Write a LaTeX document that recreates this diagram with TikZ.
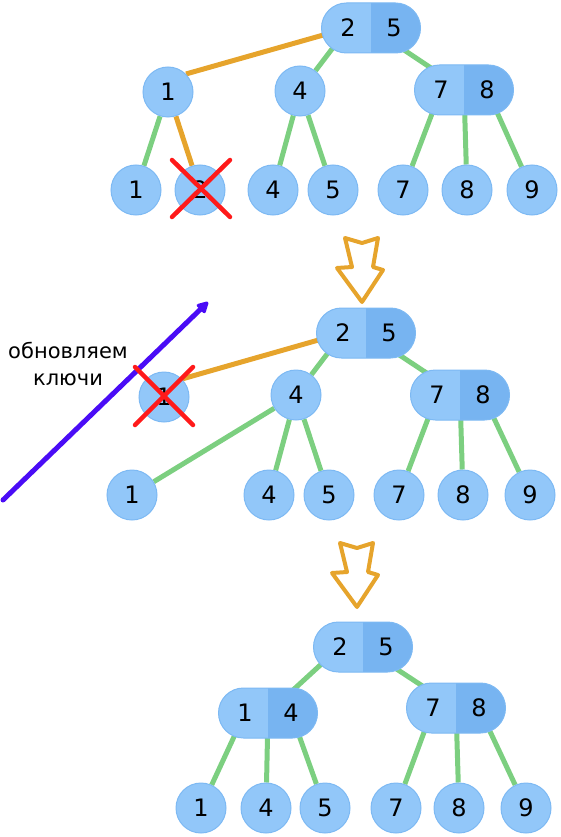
\documentclass[tikz,border=0pt]{standalone}
\usepackage{fontspec}
\setmainfont{DejaVu Sans}
\usetikzlibrary{positioning,arrows.meta,shapes.misc}
\pgfdeclarelayer{back}
\pgfsetlayers{back,main}
\definecolor{keylight}{HTML}{92C7F9}
\definecolor{keydark}{HTML}{77B4F1}
\definecolor{keyrim}{HTML}{7DB9F3}
\definecolor{linkgreen}{HTML}{7CCF80}
\definecolor{linkorange}{HTML}{E6A42C}
\definecolor{crossred}{HTML}{FF1A1A}
\definecolor{updviolet}{HTML}{4A0CF6}
\tikzset{
  leaf/.style={circle, minimum size=50pt, inner sep=0pt, fill=keylight,
    draw=keyrim, line width=1pt, font=\fontsize{24}{28}\selectfont},
  pair/.style={rounded rectangle, minimum width=99pt, minimum height=50pt,
    inner sep=0pt, fill=keydark, draw=keyrim, line width=1pt,
    path picture={\fill[keylight] (path picture bounding box.south west)
      rectangle (path picture bounding box.north);}},
  key/.style={inner sep=0pt, font=\fontsize{24}{28}\selectfont},
  link/.style={line width=5pt, draw=linkgreen},
  hot/.style={line width=5pt, draw=linkorange},
  cross/.style={line width=4.5pt, draw=crossred, line cap=round},
  down/.style={line width=4pt, draw=linkorange, fill=white, line join=round},
  update/.style={line width=5pt, draw=updviolet, line cap=round,
    -{Triangle[round,length=13pt,width=13pt]}},
  note/.style={inner sep=0pt, anchor=base, font=\fontsize{21}{27}\selectfont}
}

\begin{document}
\begin{tikzpicture}[x=1pt,y=-1pt]
  \useasboundingbox (0,0) rectangle (561,837);

  % two-key nodes
  \foreach \n/\x/\y/\a/\b in {t0/371/28/2/5, t3/464/90/7/8,
      m0/366/333/2/5, m3/460/395/7/8,
      b0/363/647/2/5, b1/268/713/1/4, b2/456/708/7/8}
  {
    \node[pair] (\n) at (\x,\y) {};
    \node[key] (\n-a) at ([xshift=-23pt]\n.center) {\a};
    \node[key] (\n-b) at ([xshift=23pt]\n.center) {\b};
  }

  % one-key nodes
  \foreach \n/\x/\y/\k in {t1/168/92/1, t2/300/91/4,
      ta/136/190/1, tb/200/190/2, tc/273/190/4, td/333/190/5,
      te/403/190/7, tf/467/190/8, tg/532/190/9,
      m1/164/397/1, m2/296/395/4,
      ma/132/495/1, mb/269/495/4, mc/329/495/5,
      md/399/495/7, me/463/495/8, mf/530/495/9,
      ba/201/808/1, bb/266/808/4, bc/325/808/5,
      bd/396/808/7, be/459/808/8, bf/526/808/9}
    \node[leaf] (\n) at (\x,\y) {\k};

  \begin{pgfonlayer}{back}
    % top tree
    \draw[hot] (t0-a.center) -- (t1.north east);
    \draw[hot] (t1) -- (tb);
    \draw[link] (t0-a.center) -- (t2);
    \draw[link] (t0.center) -- (t3.center);
    \draw[link] (t1) -- (ta);
    \draw[link] (t2) -- (tc);
    \draw[link] (t2) -- (td);
    \draw[link] (t3-a.center) -- (te);
    \draw[link] (t3.center) -- (tf);
    \draw[link] (t3-b.center) -- (tg);
    % middle tree
    \draw[hot] (m0-a.center) -- (m1.north east);
    \draw[link] (m0-a.center) -- (m2);
    \draw[link] (m0.center) -- (m3.center);
    \draw[link] (m2) -- (ma);
    \draw[link] (m2) -- (mb);
    \draw[link] (m2) -- (mc);
    \draw[link] (m3-a.center) -- (md);
    \draw[link] (m3.center) -- (me);
    \draw[link] (m3-b.center) -- (mf);
    % bottom tree
    \draw[link] (b0-a.center) -- (b1.center);
    \draw[link] (b0.center) -- (b2.center);
    \draw[link] (b1-a.center) -- (ba);
    \draw[link] (b1.center) -- (bb);
    \draw[link] (b1-b.center) -- (bc);
    \draw[link] (b2-a.center) -- (bd);
    \draw[link] (b2.center) -- (be);
    \draw[link] (b2-b.center) -- (bf);
  \end{pgfonlayer}

  % hollow arrows between the steps
  \foreach \dx/\dy in {0/0,-5/305}
    \draw[down,shift={(\dx,\dy)}] (345,238) -- (362,243) -- (378,238)
      -- (373,267) -- (383,270) -- (362,302) -- (337,268) -- (352,267) -- cycle;

  % key update
  \node[note] (note) at (68,358) {обновляем};
  \node[note] (note2) at (68,385) {ключи};
  \coordinate (upd0) at (3,500);
  \coordinate (upd1) at (208,302);
  \draw[update] (upd0) -- (upd1);

  % removed keys
  \draw[cross] ([shift={(-28,-30)}]tb.center) -- ([shift={(30,27)}]tb.center);
  \draw[cross] ([shift={(30,-30)}]tb.center) -- ([shift={(-28,27)}]tb.center);
  \draw[cross] ([shift={(-29,-30)}]m1.center) -- ([shift={(29,28)}]m1.center);
  \draw[cross] ([shift={(29,-30)}]m1.center) -- ([shift={(-29,28)}]m1.center);
\end{tikzpicture}
\end{document}
